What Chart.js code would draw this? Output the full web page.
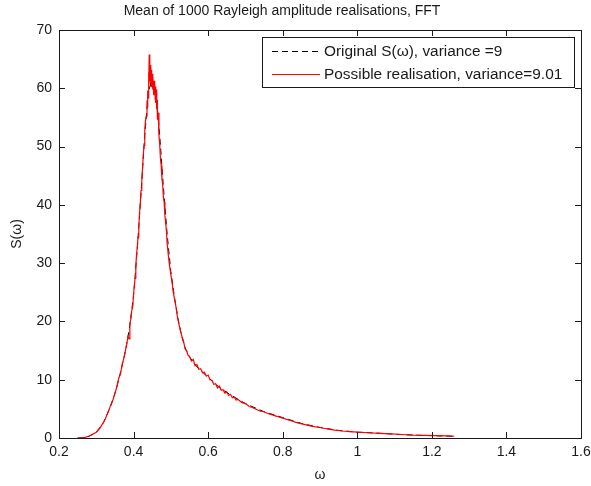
<!DOCTYPE html>
<html>
<head>
<meta charset="utf-8">
<script src="https://cdn.jsdelivr.net/npm/chart.js@4/dist/chart.umd.min.js"></script>
<style>
  html, body { margin: 0; padding: 0; background: #fff; }
  #wrap { width: 591px; height: 486px; position: relative; }
</style>
</head>
<body>
<div id="wrap"><canvas id="specChart"></canvas></div>
<script>
  // Original (target) spectrum, smooth
  const omegaOrig = [0.25, 0.26, 0.28, 0.30, 0.32, 0.34, 0.35, 0.36, 0.37, 0.38, 0.39, 0.40,
    0.41, 0.42, 0.43, 0.44, 0.45, 0.46, 0.47, 0.48, 0.49, 0.50, 0.51, 0.52, 0.53, 0.54, 0.55,
    0.57, 0.60, 0.63, 0.66, 0.70, 0.75, 0.80, 0.85, 0.90, 0.95, 1.00, 1.05, 1.10, 1.15, 1.20, 1.26];
  const sOrig = [0, 0.02, 0.3, 1.0, 2.7, 5.7, 7.6, 10.0, 12.6, 15.5, 19.3, 24.5,
    32.5, 42, 52, 59.5, 61.5, 59.5, 52, 43, 35, 28.5, 24, 20.2, 17.2, 15.2, 13.9,
    12.2, 10.4, 8.7, 7.4, 5.9, 4.5, 3.5, 2.5, 1.8, 1.3, 1.0, 0.85, 0.65, 0.5, 0.4, 0.3];

  // One realisation (noisy)
  const omegaReal = [0.250, 0.260, 0.270, 0.280, 0.290, 0.300, 0.310, 0.320, 0.325, 0.330,
    0.335, 0.340, 0.345, 0.350, 0.355, 0.360, 0.365, 0.370, 0.375, 0.380,
    0.385, 0.388, 0.390, 0.393, 0.395, 0.398, 0.400, 0.402, 0.404, 0.406,
    0.408, 0.410, 0.412, 0.414, 0.416, 0.418, 0.420, 0.422, 0.424, 0.426,
    0.428, 0.430, 0.432, 0.434, 0.436, 0.437, 0.438, 0.439, 0.440, 0.441,
    0.442, 0.443, 0.444, 0.445, 0.446, 0.447, 0.448, 0.449, 0.450, 0.451,
    0.452, 0.453, 0.454, 0.455, 0.456, 0.457, 0.458, 0.459, 0.460, 0.461,
    0.462, 0.463, 0.464, 0.466, 0.468, 0.470, 0.472, 0.474, 0.476, 0.478,
    0.480, 0.482, 0.484, 0.486, 0.488, 0.490, 0.493, 0.496, 0.500, 0.503,
    0.506, 0.510, 0.514, 0.518, 0.522, 0.526, 0.530, 0.534, 0.538, 0.542,
    0.546, 0.550, 0.555, 0.560, 0.565, 0.570, 0.575, 0.580, 0.585, 0.590,
    0.595, 0.600, 0.605, 0.610, 0.615, 0.620, 0.625, 0.630, 0.635, 0.640,
    0.645, 0.650, 0.655, 0.660, 0.665, 0.670, 0.675, 0.680, 0.690, 0.700,
    0.710, 0.720, 0.730, 0.740, 0.750, 0.760, 0.770, 0.780, 0.790, 0.800,
    0.820, 0.840, 0.860, 0.880, 0.900, 0.920, 0.940, 0.960, 0.980, 1.000,
    1.030, 1.060, 1.090, 1.120, 1.150, 1.180, 1.210, 1.240, 1.260];
  const sReal = [0, 0.02, 0.1, 0.3, 0.6, 1.0, 1.7, 2.8, 3.4, 4.2,
    5.0, 5.9, 6.6, 7.7, 8.7, 10.2, 11.0, 12.8, 13.9, 15.6,
    17.4, 17.0, 19.6, 20.5, 21.8, 22.6, 24.8, 26.0, 27.4, 29.5,
    31.5, 32.8, 34.5, 36.2, 38.6, 40.2, 42.5, 44.0, 46.3, 48.5,
    50.2, 52.8, 54.5, 55.2, 57.9, 56.8, 59.6, 58.4, 62.7, 60.5,
    65.8, 61.2, 63.5, 60.8, 64.0, 61.5, 63.2, 60.2, 62.5, 59.8,
    61.9, 60.6, 58.8, 61.3, 59.4, 61.0, 58.2, 60.3, 57.5, 59.8,
    56.4, 58.0, 54.6, 55.8, 52.0, 50.5, 48.0, 46.8, 44.5, 43.6,
    41.2, 40.5, 38.2, 37.0, 35.6, 33.4, 31.5, 29.8, 28.0, 26.8,
    25.2, 23.8, 22.4, 20.6, 19.4, 18.3, 17.4, 16.6, 15.3, 15.0,
    14.2, 14.0, 13.2, 13.5, 12.4, 12.6, 11.8, 11.9, 11.2, 11.3,
    10.6, 10.8, 10.0, 9.9, 9.2, 9.3, 8.6, 8.9, 8.2, 8.3,
    7.7, 7.9, 7.3, 7.5, 6.9, 7.0, 6.5, 6.6, 6.1, 5.9,
    5.4, 5.2, 4.9, 4.6, 4.5, 4.2, 4.0, 3.8, 3.6, 3.4,
    3.0, 2.6, 2.3, 2.0, 1.8, 1.55, 1.35, 1.2, 1.1, 1.0,
    0.9, 0.8, 0.7, 0.6, 0.5, 0.45, 0.4, 0.35, 0.3];

  const xTickLabels = ["0.2", "0.4", "0.6", "0.8", "1", "1.2", "1.4", "1.6"];
  const yTickLabels = ["0", "10", "20", "30", "40", "50", "60", "70"];
  const legendLabels = ["Original S(\u03c9), variance =9", "Possible realisation, variance=9.01"];
  const chartTitle = "Mean of 1000 Rayleigh amplitude realisations, FFT";

  const FONT = "'Liberation Sans', Arial, Helvetica, sans-serif";
  const INK = "#1a1a1a";

  function toPoints(xs, ys) { return xs.map((x, i) => ({ x, y: ys[i] })); }

  // matlab style box: frame + inward ticks on all four sides, title, legend box
  const boxPlugin = {
    id: "matlabBox",
    afterDatasetsDraw(chart) {
      const { ctx, chartArea: a, scales } = chart;
      ctx.save();
      ctx.strokeStyle = INK;
      ctx.lineWidth = 1;
      ctx.beginPath();
      scales.x.ticks.forEach(t => {
        const px = Math.round(scales.x.getPixelForValue(t.value)) + 0.5;
        ctx.moveTo(px, a.bottom); ctx.lineTo(px, a.bottom - 6);
        ctx.moveTo(px, a.top); ctx.lineTo(px, a.top + 6);
      });
      scales.y.ticks.forEach(t => {
        const py = Math.round(scales.y.getPixelForValue(t.value)) + 0.5;
        ctx.moveTo(a.left, py); ctx.lineTo(a.left + 6, py);
        ctx.moveTo(a.right, py); ctx.lineTo(a.right - 6, py);
      });
      ctx.stroke();
      ctx.strokeRect(Math.round(a.left) + 0.5, Math.round(a.top) + 0.5,
        Math.round(a.right - a.left), Math.round(a.bottom - a.top));

      // title
      ctx.fillStyle = INK;
      ctx.font = "14px " + FONT;
      ctx.textAlign = "center";
      ctx.textBaseline = "middle";
      ctx.fillText(chartTitle, 282, 11);

      // legend
      const lx = 262.5, ly = 37.5, lw = 312, lh = 50;
      ctx.fillStyle = "#fff";
      ctx.fillRect(lx, ly, lw, lh);
      ctx.strokeRect(lx, ly, lw, lh);
      const rows = [51, 74];
      ctx.textAlign = "left";
      chart.data.datasets.forEach((ds, i) => {
        ctx.beginPath();
        ctx.strokeStyle = ds.borderColor;
        ctx.setLineDash(ds.borderDash || []);
        ctx.moveTo(272, rows[i] + 0.5);
        ctx.lineTo(320, rows[i] + 0.5);
        ctx.stroke();
        ctx.setLineDash([]);
        ctx.fillStyle = INK;
        ctx.font = "15.4px " + FONT;
        ctx.fillText(ds.label, 324, rows[i] + 1);
      });
      ctx.restore();
    }
  };

  new Chart(document.getElementById("specChart"), {
    type: "line",
    data: {
      datasets: [
        {
          label: legendLabels[0],
          data: toPoints(omegaOrig, sOrig),
          borderColor: "#000000",
          borderDash: [6, 4],
          borderWidth: 1,
          pointRadius: 0,
          tension: 0,
          order: 1
        },
        {
          label: legendLabels[1],
          data: toPoints(omegaReal, sReal),
          borderColor: "#ff0000",
          borderWidth: 1.2,
          pointRadius: 0,
          tension: 0,
          order: 0
        }
      ]
    },
    options: {
      responsive: true,
      maintainAspectRatio: false,
      animation: false,
      devicePixelRatio: 1,
      layout: { padding: { left: 0, right: 10, top: 30, bottom: 0 } },
      plugins: {
        legend: { display: false },
        tooltip: { enabled: false },
        title: { display: false }
      },
      scales: {
        x: {
          type: "linear",
          min: 0.2, max: 1.6,
          afterFit: s => { s.height = 48; s.paddingRight = 0; s.paddingLeft = 0; },
          grid: { display: false, drawTicks: false },
          border: { display: false },
          ticks: {
            stepSize: 0.2,
            padding: 6,
            color: INK,
            font: { family: FONT, size: 14 },
            maxRotation: 0,
            callback: (v, i) => xTickLabels[i]
          },
          title: {
            display: true, text: "\u03c9", color: INK,
            font: { family: FONT, size: 14 },
            padding: { top: 0, bottom: 2.6 }
          }
        },
        y: {
          min: 0, max: 70,
          afterFit: s => { s.width = 59; },
          grid: { display: false, drawTicks: false },
          border: { display: false },
          ticks: {
            stepSize: 10,
            padding: 7,
            color: INK,
            font: { family: FONT, size: 14 },
            callback: (v, i) => yTickLabels[i]
          },
          title: {
            display: true, text: "S(\u03c9)", color: INK,
            font: { family: FONT, size: 14 },
            padding: { top: 8.6, bottom: 0 }
          }
        }
      }
    },
    plugins: [boxPlugin]
  });
</script>
</body>
</html>
